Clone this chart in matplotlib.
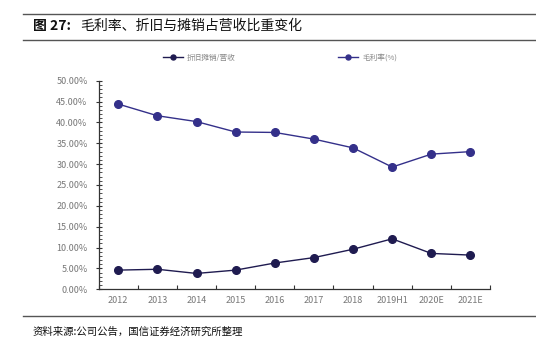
import matplotlib
matplotlib.use("Agg")
import matplotlib.pyplot as plt
from matplotlib.ticker import MultipleLocator, FuncFormatter
from matplotlib.lines import Line2D

plt.rcParams['font.family'] = ['Noto Sans CJK SC', 'DejaVu Sans']

categories = ["2012", "2013", "2014", "2015", "2016", "2017", "2018", "2019H1", "2020E", "2021E"]
dep_amort = [4.6, 4.8, 3.8, 4.6, 6.3, 7.6, 9.6, 12.1, 8.6, 8.2]
gross_margin = [44.4, 41.6, 40.2, 37.7, 37.6, 36.0, 33.9, 29.3, 32.4, 33.0]
series_names = ["折旧摊销/营收", "毛利率(%)"]
title = "毛利率、折旧与摊销占营收比重变化"
source = "资料来源:公司公告，国信证券经济研究所整理"

fig = plt.figure(figsize=(5.36, 3.59), dpi=100)
W, H = 536, 359

# rules
for y in [13.5, 39.5, 315.7]:
    fig.add_artist(Line2D([23/W, 1.0], [1 - y/H, 1 - y/H], color="#555555", lw=1.0))

fig.text(33/W, 1 - 26/H, "图 27:", fontsize=10, fontweight="bold", va="center", ha="left", color="#111111")
fig.text(80/W, 1 - 26/H, title, fontsize=10, va="center", ha="left", color="#111111")
fig.text(33/W, 1 - 332/H, source, fontsize=7.5, va="center", ha="left", color="#111111")

ax = fig.add_axes([98.7/W, 1 - 289.3/H, (490 - 98.7)/W, (289.3 - 80.7)/H])
x = list(range(len(categories)))

c_low = "#1f1b50"
c_up = "#34308a"
ax.plot(x, dep_amort, color=c_low, lw=1.0, marker="o", ms=5.5, mfc=c_low, mec=c_low, label=series_names[0])
ax.plot(x, gross_margin, color=c_up, lw=1.0, marker="o", ms=5.5, mfc=c_up, mec=c_up, label=series_names[1])

ax.set_xlim(-0.5, len(categories) - 0.5)
ax.set_ylim(0, 50)
ax.yaxis.set_major_locator(MultipleLocator(5))
ax.yaxis.set_minor_locator(MultipleLocator(1))
ax.yaxis.set_major_formatter(FuncFormatter(lambda v, p: f"{v:.2f}%"))
ax.set_xticks([i + 0.5 for i in range(-1, len(categories))], minor=False)
ax.set_xticklabels([""] * (len(categories) + 1))
ax.set_xticks(x, minor=True)
ax.set_xticklabels(categories, minor=True)
ax.tick_params(axis="x", which="major", direction="in", length=3, width=0.8, color="#333333")
ax.tick_params(axis="x", which="minor", length=0, labelsize=6.5, labelcolor="#777777", pad=5)
ax.tick_params(axis="y", which="major", direction="inout", length=4, width=0.8, color="#333333", labelsize=6.5, labelcolor="#777777", pad=6)
ax.tick_params(axis="y", which="minor", direction="in", length=2, width=0.6, color="#333333")

for s in ["top", "right"]:
    ax.spines[s].set_visible(False)
for s in ["left", "bottom"]:
    ax.spines[s].set_color("#333333")
    ax.spines[s].set_linewidth(0.9)

fig.legend(loc="center", bbox_to_anchor=(280/W, 1 - 58/H), ncol=2, frameon=False, fontsize=5.5,
           labelcolor="#888888", columnspacing=13.5, handlelength=2.6, handletextpad=0.5, markerscale=0.65)

fig.savefig("out.png", dpi=100)
